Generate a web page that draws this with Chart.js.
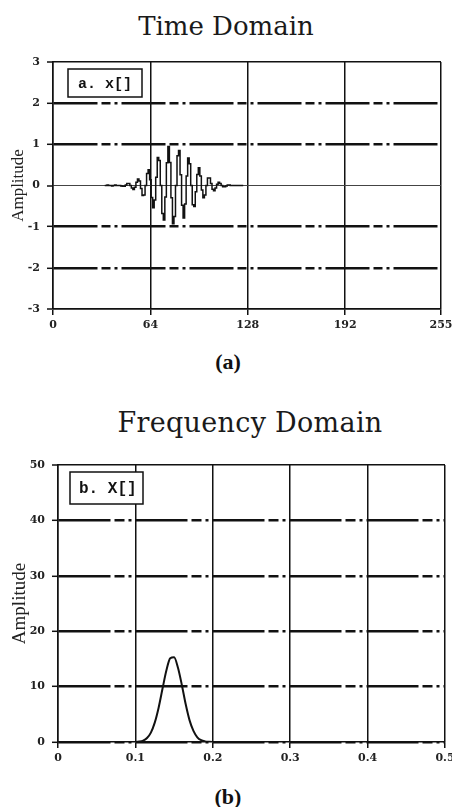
<!DOCTYPE html>
<html>
<head>
<meta charset="utf-8">
<script src="https://cdn.jsdelivr.net/npm/chart.js@4.4.1/dist/chart.umd.min.js"></script>
<style>
  html, body { margin: 0; padding: 0; background: #fff; }
  body { width: 452px; height: 807px; overflow: hidden; position: relative; }
  .box { position: absolute; left: 0; }
  .title { position: absolute; font-family: "DejaVu Serif", serif; font-size: 26px; line-height: 26px; color: #1a1a1a; white-space: nowrap; text-align: center; }
  .caption { position: absolute; font-family: "Liberation Serif", serif; font-weight: bold; font-size: 22px; line-height: 22px; color: #111; text-align: center; width: 452px; left: 0; }
</style>
</head>
<body>
<div class="title" style="left:0; width:452px; top:13px;">Time Domain</div>
<div class="box" style="top:0px;"><canvas id="timeChart" width="460" height="345"></canvas></div>
<div class="caption" style="top:351px; left:2px;">(a)</div>

<div class="title" style="left:0; width:500px; top:410px; font-size:27px; letter-spacing:0.3px;">Frequency Domain</div>
<div class="box" style="top:400px;"><canvas id="freqChart" width="460" height="380"></canvas></div>
<div class="caption" style="top:786px; left:2px;">(b)</div>

<script>
// time domain: x[] samples, first value is at index 34
const firstSample = 34;
const timeValues = [
  0, 0, 0.01, 0, 0, -0.01, 0, 0.01, 0, 0,
  0, -0.01, -0.02, -0.02, 0.01, 0.05, 0.05, 0, -0.06, -0.10,
  -0.04, 0.08, 0.16, 0.11, -0.07, -0.24, -0.23, 0, 0.29, 0.38,
  0.14, -0.29, -0.54, -0.35, 0.20, 0.68, 0.61, 0, -0.68, -0.84,
  -0.28, 0.55, 0.95, 0.56, -0.30, -0.93, -0.75, 0, 0.72, 0.85,
  0.26, -0.48, -0.79, -0.45, 0.23, 0.67, 0.53, 0, -0.47, -0.51,
  -0.15, 0.27, 0.43, 0.23, -0.11, -0.30, -0.23, 0, 0.18, 0.18,
  0.05, -0.09, -0.13, -0.06, 0.03, 0.08, 0.05, 0, -0.03, -0.03,
  -0.01, 0.01, 0.01, 0, 0, 0, 0, 0, 0, 0,
  0, 0
];
const timeTicks = [0, 64, 128, 192, 255];
const timeSolidLines = [-3, 0, 3];

// frequency domain: X[] magnitude
const freqBins = [0.090, 0.100, 0.105, 0.110, 0.115, 0.120, 0.125, 0.130, 0.135, 0.140, 0.145,
                  0.150, 0.155, 0.160, 0.165, 0.170, 0.175, 0.180, 0.185, 0.190, 0.195, 0.200, 0.210];
const magnitude = [0, 0.02, 0.08, 0.26, 0.71, 1.7, 3.5, 6.2, 9.6, 12.9, 15.1,
                   15.3, 13.4, 10.3, 6.8, 3.9, 2.0, 0.85, 0.32, 0.11, 0.03, 0, 0];
const freqTicks = [0, 0.1, 0.2, 0.3, 0.4, 0.5];
const freqSolidLines = [50];

const tickFont = { family: 'DejaVu Serif', size: 11, weight: 'bold' };

// white box with the signal name, top left inside the plot
const labelBox = {
  id: 'labelBox',
  afterDatasetsDraw(chart, args, opts) {
    const { ctx, chartArea } = chart;
    const x = chartArea.left + opts.dx;
    const y = chartArea.top + opts.dy;
    ctx.save();
    ctx.fillStyle = '#fff';
    ctx.fillRect(x, y, opts.w, opts.h);
    ctx.strokeStyle = '#111';
    ctx.lineWidth = 1.5;
    ctx.strokeRect(x, y, opts.w, opts.h);
    ctx.fillStyle = '#111';
    ctx.font = opts.font;
    ctx.textBaseline = 'middle';
    ctx.fillText(chart.data.datasets[0].label, x + opts.pad, y + opts.h / 2 + 1);
    ctx.restore();
  }
};

function makeChart(id, cfg) {
  return new Chart(document.getElementById(id), {
    type: 'line',
    data: {
      datasets: [{
        label: cfg.label,
        data: cfg.points,
        borderColor: '#111',
        borderWidth: cfg.lineWidth,
        pointRadius: 0,
        tension: 0,
        stepped: cfg.stepped,
        cubicInterpolationMode: cfg.smooth ? 'monotone' : 'default'
      }]
    },
    options: {
      responsive: false,
      animation: false,
      layout: { padding: cfg.padding },
      plugins: {
        legend: { display: false },
        tooltip: { enabled: false },
        labelBox: cfg.box
      },
      scales: {
        x: {
          type: 'linear',
          min: cfg.xTicks[0],
          max: cfg.xTicks[cfg.xTicks.length - 1],
          afterBuildTicks: s => { s.ticks = cfg.xTicks.map(v => ({ value: v })); },
          afterFit: s => { s.height = 30; },
          ticks: { font: tickFont, color: '#222', padding: 4, maxRotation: 0, autoSkip: false },
          grid: { color: '#111', lineWidth: 1.5, tickLength: 6, tickWidth: 1.5, tickColor: '#111' },
          border: { color: '#111', width: 1.5 }
        },
        y: {
          min: cfg.yMin,
          max: cfg.yMax,
          ticks: { stepSize: cfg.yStep, font: tickFont, color: '#222', padding: 7 },
          afterFit: s => { s.width = cfg.yWidth; },
          grid: {
            color: '#111',
            lineWidth: c => (cfg.solid.includes(c.tick.value) ? 0 : 2.6),
            tickLength: 6, tickWidth: 1.5, tickColor: '#111'
          },
          border: { color: '#111', width: 1.5, dash: cfg.dash },
          title: {
            display: true, text: 'Amplitude', color: '#222',
            font: { family: 'Liberation Serif', size: cfg.titleSize },
            padding: { top: cfg.titlePad, bottom: 0 }
          }
        },
        y2: {
          position: 'right',
          min: cfg.yMin,
          max: cfg.yMax,
          afterFit: s => { s.width = 0; },
          afterBuildTicks: s => { s.ticks = cfg.solid.map(v => ({ value: v })); },
          ticks: { display: false },
          grid: { color: c => (c.tick.value === 0 ? '#444' : '#111'), lineWidth: c => (c.tick.value === 0 ? 1 : 1.5), drawTicks: false },
          border: { display: false }
        }
      }
    },
    plugins: [labelBox]
  });
}

makeChart('timeChart', {
  label: 'a. x[]',
  points: timeValues.map((v, i) => ({ x: firstSample + i, y: v })),
  lineWidth: 1.5,
  stepped: 'middle',
  smooth: false,
  padding: { left: 0, top: 62, right: 19, bottom: 6 },
  xTicks: timeTicks,
  yMin: -3, yMax: 3, yStep: 1, yWidth: 53,
  solid: timeSolidLines,
  dash: [44, 4, 9, 4, 3, 4],
  titleSize: 17, titlePad: 8,
  box: { dx: 15, dy: 7, w: 74, h: 28, pad: 10, font: 'bold 15px "Liberation Mono"' }
});

makeChart('freqChart', {
  label: 'b. X[]',
  points: freqBins.map((f, i) => ({ x: f, y: magnitude[i] })),
  lineWidth: 2,
  stepped: false,
  smooth: true,
  padding: { left: 0, top: 65, right: 15, bottom: 8 },
  xTicks: freqTicks,
  yMin: 0, yMax: 50, yStep: 10, yWidth: 58,
  solid: freqSolidLines,
  dash: [52, 4, 10, 4, 3, 4],
  titleSize: 19, titlePad: 9,
  box: { dx: 12, dy: 7, w: 73, h: 32, pad: 9, font: 'bold 16px "Liberation Mono"' }
});
</script>
</body>
</html>
